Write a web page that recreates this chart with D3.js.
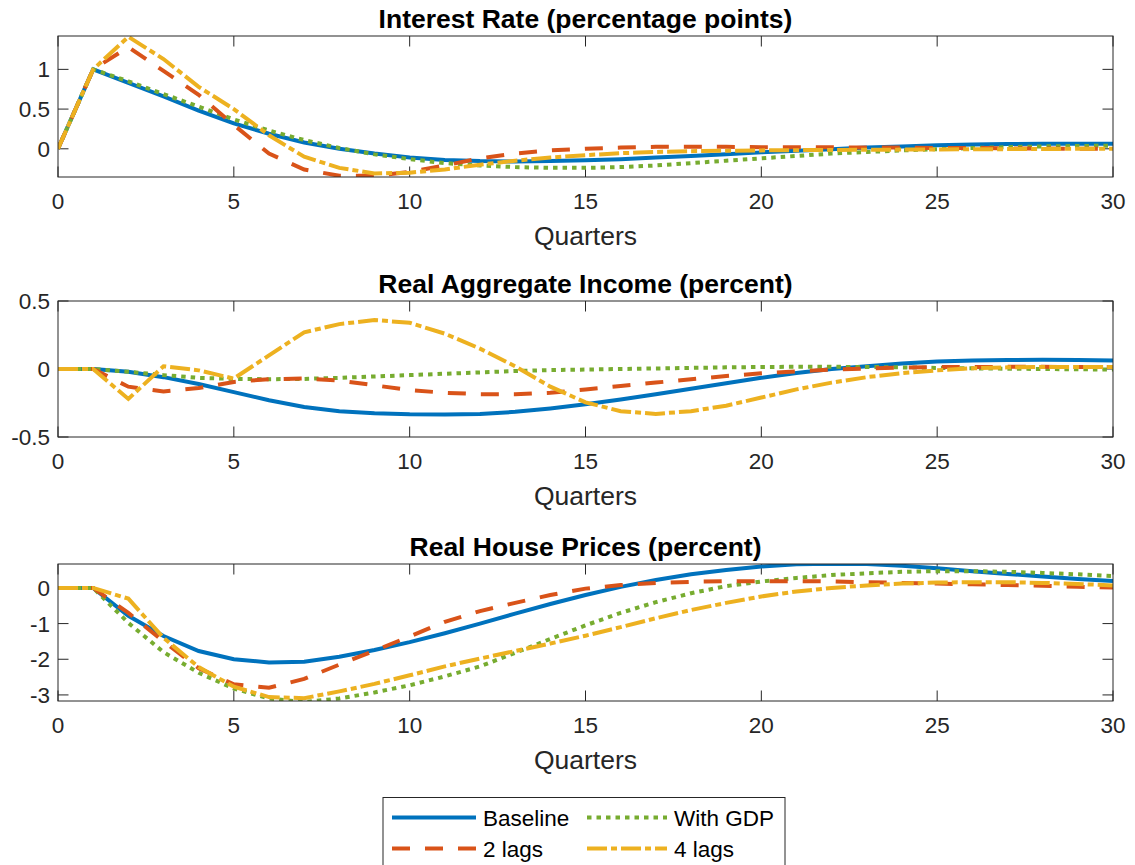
<!DOCTYPE html>
<html>
<head>
<meta charset="utf-8">
<script src="https://cdn.jsdelivr.net/npm/d3@7"></script>
<style>
  body { margin: 0; background: #fff; }
  svg { display: block; font-family: "Liberation Sans", Arial, Helvetica, sans-serif; }
</style>
</head>
<body>
<script>
const quarters = d3.range(0, 31)
const xTicks = [0, 5, 10, 15, 20, 25, 30]
const seriesNames = ["Baseline", "With GDP", "2 lags", "4 lags"]

// Interest Rate (percentage points)
const rateBaseline = [0, 1.0, 0.83, 0.66, 0.48, 0.32, 0.19, 0.08, 0.0, -0.06, -0.11, -0.14, -0.155, -0.16, -0.155, -0.145, -0.13, -0.11, -0.09, -0.07, -0.045, -0.025, -0.005, 0.015, 0.03, 0.045, 0.055, 0.06, 0.065, 0.065, 0.065]
const rateGdp = [0, 1.0, 0.85, 0.69, 0.53, 0.37, 0.23, 0.11, 0.01, -0.07, -0.13, -0.18, -0.21, -0.23, -0.24, -0.24, -0.23, -0.21, -0.18, -0.15, -0.12, -0.09, -0.06, -0.04, -0.02, -0.005, 0.01, 0.02, 0.03, 0.035, 0.04]
const rateLag2 = [0, 1.0, 1.28, 0.98, 0.68, 0.3, -0.06, -0.26, -0.34, -0.34, -0.29, -0.21, -0.12, -0.06, -0.02, 0.0, 0.015, 0.025, 0.025, 0.025, 0.02, 0.02, 0.02, 0.015, 0.015, 0.01, 0.01, 0.005, 0.005, 0.0, 0.0]
const rateLag4 = [0, 1.0, 1.41, 1.13, 0.78, 0.5, 0.17, -0.1, -0.24, -0.31, -0.3, -0.26, -0.2, -0.15, -0.11, -0.08, -0.055, -0.04, -0.03, -0.025, -0.02, -0.017, -0.014, -0.012, -0.01, -0.008, -0.006, -0.004, -0.002, 0.0, 0.0]

// Real Aggregate Income (percent)
const incomeBaseline = [0, 0, -0.02, -0.06, -0.11, -0.17, -0.23, -0.28, -0.31, -0.325, -0.333, -0.335, -0.33, -0.315, -0.29, -0.26, -0.225, -0.185, -0.145, -0.105, -0.065, -0.03, 0.0, 0.02, 0.04, 0.055, 0.062, 0.066, 0.068, 0.066, 0.062]
const incomeGdp = [0, 0, -0.02, -0.045, -0.065, -0.073, -0.075, -0.073, -0.065, -0.055, -0.045, -0.035, -0.025, -0.015, -0.008, -0.004, 0.0, 0.004, 0.008, 0.012, 0.015, 0.016, 0.016, 0.015, 0.012, 0.008, 0.005, 0.002, 0.0, -0.002, -0.004]
const incomeLag2 = [0, 0, -0.13, -0.165, -0.14, -0.095, -0.075, -0.07, -0.085, -0.12, -0.155, -0.175, -0.185, -0.186, -0.175, -0.15, -0.125, -0.1, -0.075, -0.052, -0.032, -0.017, -0.005, 0.004, 0.01, 0.014, 0.015, 0.016, 0.016, 0.015, 0.015]
const incomeLag4 = [0, 0, -0.22, 0.02, -0.01, -0.07, 0.1, 0.27, 0.33, 0.36, 0.34, 0.26, 0.15, 0.02, -0.13, -0.245, -0.31, -0.33, -0.31, -0.27, -0.21, -0.15, -0.1, -0.06, -0.03, -0.01, 0.005, 0.012, 0.015, 0.015, 0.015]

// Real House Prices (percent)
const houseBaseline = [0, 0, -0.78, -1.35, -1.77, -2.0, -2.09, -2.07, -1.93, -1.74, -1.52, -1.27, -1.0, -0.72, -0.45, -0.2, 0.03, 0.22, 0.38, 0.5, 0.6, 0.66, 0.68, 0.67, 0.62, 0.55, 0.47, 0.39, 0.32, 0.25, 0.19]
const houseGdp = [0, 0, -0.98, -1.8, -2.38, -2.82, -3.1, -3.2, -3.1, -2.93, -2.73, -2.48, -2.2, -1.82, -1.43, -1.05, -0.7, -0.4, -0.15, 0.05, 0.18, 0.28, 0.36, 0.41, 0.45, 0.47, 0.47, 0.45, 0.42, 0.38, 0.33]
const houseLag2 = [0, 0, -0.7, -1.5, -2.25, -2.7, -2.8, -2.55, -2.15, -1.76, -1.36, -0.95, -0.65, -0.42, -0.2, -0.02, 0.08, 0.14, 0.17, 0.19, 0.19, 0.19, 0.18, 0.16, 0.14, 0.12, 0.1, 0.08, 0.06, 0.03, 0.01]
const houseLag4 = [0, 0, -0.3, -1.4, -2.22, -2.77, -3.06, -3.09, -2.9, -2.69, -2.45, -2.2, -1.98, -1.77, -1.56, -1.34, -1.1, -0.85, -0.62, -0.42, -0.24, -0.1, 0.0, 0.07, 0.12, 0.15, 0.16, 0.16, 0.14, 0.11, 0.07]

const panels = [
  { title: "Interest Rate (percentage points)", domain: [-0.355, 1.42], ticks: [0, 0.5, 1], series: [rateBaseline, rateGdp, rateLag2, rateLag4] },
  { title: "Real Aggregate Income (percent)", domain: [-0.5, 0.5], ticks: [-0.5, 0, 0.5], series: [incomeBaseline, incomeGdp, incomeLag2, incomeLag4] },
  { title: "Real House Prices (percent)", domain: [-3.17, 0.67], ticks: [-3, -2, -1, 0], series: [houseBaseline, houseGdp, houseLag2, houseLag4] }
]

const width = 1135
const height = 865
const left = 58, right = 1113
const boxes = [[36, 177], [301, 437], [564, 701]]
const colors = ["#0072BD", "#77AC30", "#D95319", "#EDB120"]
const dashes = [null, "4.5,5", "18,15", "20,4,6,4"]
const axisColor = "#262626"
const tickLen = 10.5
const tickFont = 22.5
const labelFont = 26.5

const svg = d3.select("body").append("svg")
  .attr("width", width)
  .attr("height", height)

const x = d3.scaleLinear().domain([0, 30]).range([left, right])

panels.forEach((p, i) => {
  const [top, bottom] = boxes[i]
  const y = d3.scaleLinear().domain(p.domain).range([bottom, top])
  const g = svg.append("g")

  g.append("clipPath").attr("id", "clip" + i)
    .append("rect").attr("x", left).attr("y", top).attr("width", right - left).attr("height", bottom - top)

  // ticks point inward on all four sides
  const tk = g.append("g").attr("stroke", axisColor).attr("stroke-width", 1)
  xTicks.forEach(t => {
    tk.append("line").attr("x1", x(t)).attr("x2", x(t)).attr("y1", bottom).attr("y2", bottom - tickLen)
    tk.append("line").attr("x1", x(t)).attr("x2", x(t)).attr("y1", top).attr("y2", top + tickLen)
  })
  p.ticks.forEach(t => {
    tk.append("line").attr("x1", left).attr("x2", left + tickLen).attr("y1", y(t)).attr("y2", y(t))
    tk.append("line").attr("x1", right).attr("x2", right - tickLen).attr("y1", y(t)).attr("y2", y(t))
  })

  const line = d3.line().x((d, k) => x(quarters[k])).y(d => y(d))
  const lines = g.append("g").attr("clip-path", `url(#clip${i})`)
  p.series.forEach((s, k) => {
    lines.append("path")
      .attr("d", line(s))
      .attr("fill", "none")
      .attr("stroke", colors[k])
      .attr("stroke-width", 4)
      .attr("stroke-dasharray", dashes[k])
  })

  g.append("rect")
    .attr("x", left).attr("y", top).attr("width", right - left).attr("height", bottom - top)
    .attr("fill", "none").attr("stroke", axisColor).attr("stroke-width", 1)

  g.append("g").selectAll("text").data(xTicks).join("text")
    .attr("x", d => x(d)).attr("y", bottom + 32)
    .attr("text-anchor", "middle").attr("font-size", tickFont).attr("fill", axisColor)
    .text(d => d)

  g.append("g").selectAll("text").data(p.ticks).join("text")
    .attr("x", left - 8).attr("y", d => y(d) + 8)
    .attr("text-anchor", "end").attr("font-size", tickFont).attr("fill", axisColor)
    .text(d => String(d))

  g.append("text")
    .attr("x", (left + right) / 2).attr("y", bottom + 68)
    .attr("text-anchor", "middle").attr("font-size", labelFont).attr("fill", axisColor)
    .text("Quarters")

  g.append("text")
    .attr("x", (left + right) / 2).attr("y", top - 8)
    .attr("text-anchor", "middle").attr("font-size", labelFont).attr("font-weight", "bold").attr("fill", "#000")
    .text(p.title)
})

// legend, two columns
const legend = svg.append("g")
legend.append("rect")
  .attr("x", 383).attr("y", 797.5).attr("width", 402).attr("height", 80)
  .attr("fill", "#fff").attr("stroke", axisColor).attr("stroke-width", 1)

const legendPos = [[392, 817.5], [587, 817.5], [392, 848.5], [587, 848.5]]
const legendLen = [84, 80, 84, 80]
seriesNames.forEach((name, k) => {
  const [lx, ly] = legendPos[k]
  legend.append("line")
    .attr("x1", lx).attr("x2", lx + legendLen[k]).attr("y1", ly).attr("y2", ly)
    .attr("stroke", colors[k]).attr("stroke-width", 4)
    .attr("stroke-dasharray", dashes[k])
  legend.append("text")
    .attr("x", lx + legendLen[k] + 7).attr("y", ly + 8)
    .attr("font-size", tickFont).attr("fill", "#000")
    .text(name)
})
</script>
</body>
</html>
